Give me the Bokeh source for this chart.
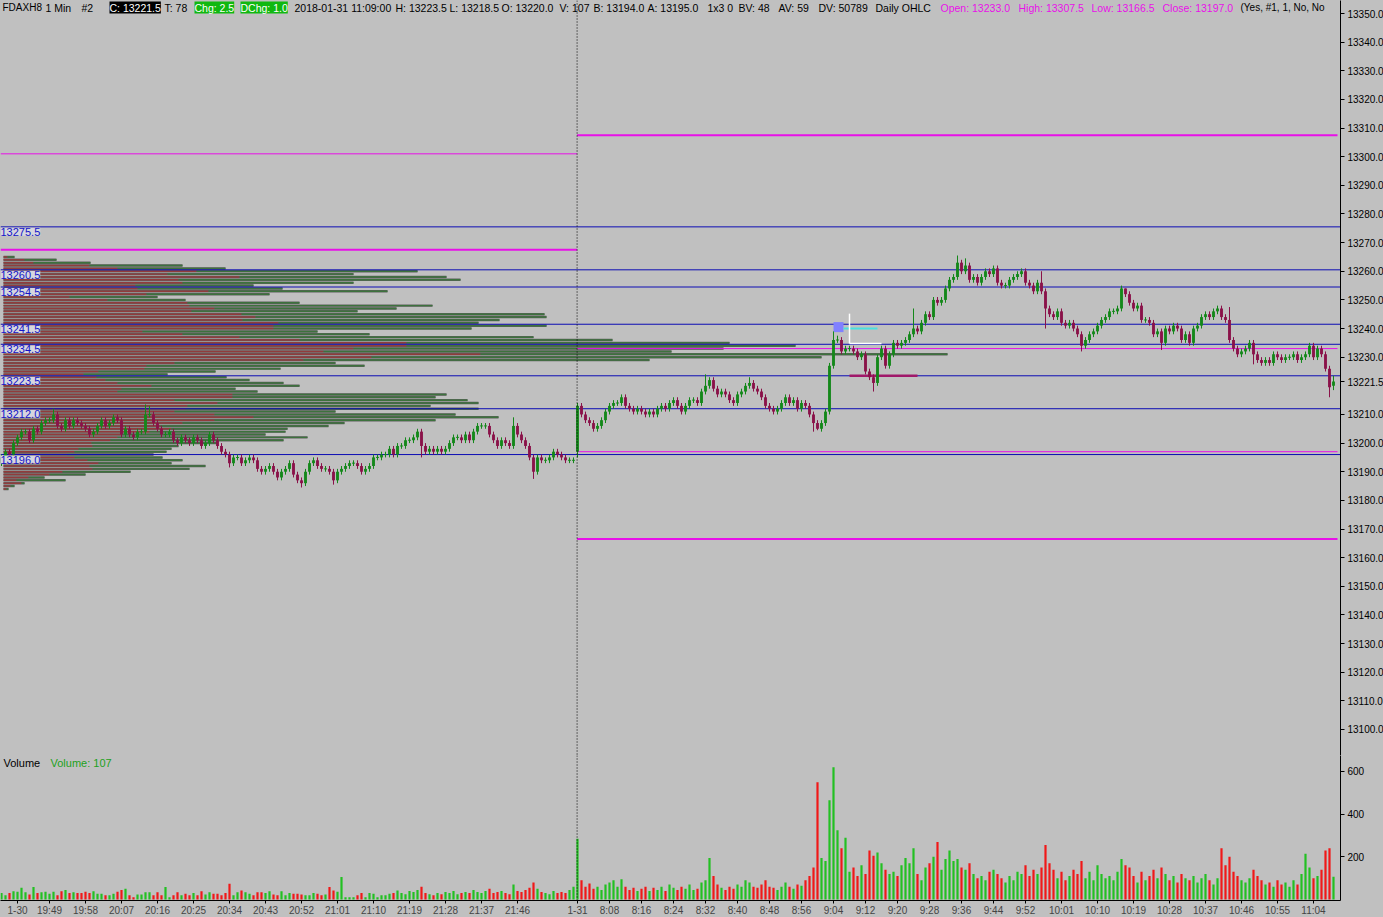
from bokeh.plotting import figure
from bokeh.models import Range1d, FixedTicker, PrintfTickFormatter, Label, Span, ColumnDataSource
from bokeh.layouts import column
from bokeh.embed import file_html
from bokeh.resources import INLINE

# ------------------------------------------------------------------ data
day1_start, day1_end = "19:37", "22:00"
day2_start, day2_end = "8:00", "11:09"

close_day1 = [
    13195, 13197, 13196, 13200, 13202, 13204, 13204, 13201, 13205, 13204,
    13207, 13208, 13208, 13210, 13206, 13205, 13208, 13206, 13208, 13207,
    13206, 13205, 13203, 13204, 13206, 13208, 13206, 13207, 13209, 13208,
    13203, 13205, 13203, 13202, 13204, 13204, 13210, 13210, 13207, 13205,
    13203, 13203, 13204, 13201, 13200, 13202, 13201, 13200, 13202, 13201,
    13199, 13200, 13203, 13201, 13199, 13197, 13196, 13193, 13195, 13195,
    13193, 13194, 13195, 13194, 13191, 13190, 13191, 13192, 13190, 13188,
    13190, 13191, 13193, 13189, 13187, 13186, 13190, 13193, 13194, 13192,
    13191, 13191, 13190, 13187, 13190, 13191, 13192, 13193, 13193, 13192,
    13190, 13191, 13192, 13195, 13195, 13196, 13196, 13198, 13196, 13199,
    13199, 13201, 13201, 13202, 13204, 13199, 13197, 13198, 13197, 13198,
    13197, 13198, 13200, 13202, 13202, 13201, 13203, 13201, 13204, 13206,
    13206, 13206, 13203, 13201, 13199, 13201, 13200, 13199, 13206, 13203,
    13201, 13199, 13195, 13190, 13195, 13194, 13194, 13195, 13197, 13196,
    13195, 13194, 13194, 13194,
]
close_day2 = [
    13213, 13210, 13208, 13207, 13205, 13206, 13208, 13211, 13213, 13214,
    13214, 13216, 13213, 13212, 13211, 13212, 13211, 13210, 13211, 13210,
    13212, 13213, 13212, 13214, 13215, 13213, 13211, 13213, 13215, 13215,
    13214, 13218, 13220, 13222, 13219, 13217, 13218, 13217, 13215, 13214,
    13217, 13218, 13220, 13221, 13219, 13218, 13216, 13213, 13212, 13211,
    13212, 13214, 13216, 13214, 13215, 13212, 13214, 13213, 13210, 13207,
    13205, 13207, 13211, 13227, 13236, 13236, 13232, 13233, 13233, 13232,
    13230, 13231, 13225, 13223, 13221, 13230, 13233, 13227, 13231, 13235,
    13234, 13235, 13236, 13238, 13240, 13239, 13242, 13245, 13244, 13250,
    13249, 13250, 13254, 13257, 13258, 13263, 13260, 13262, 13257, 13258,
    13256, 13258, 13260, 13259, 13261, 13256, 13255, 13255, 13257, 13258,
    13259, 13260, 13256, 13255, 13253, 13256, 13253, 13247, 13245, 13244,
    13246, 13242, 13241, 13242, 13240, 13238, 13234, 13236, 13238, 13239,
    13241, 13243, 13244, 13246, 13246, 13247, 13254, 13252, 13249, 13247,
    13248, 13243, 13243, 13242, 13238, 13239, 13235, 13240, 13239, 13241,
    13240, 13236, 13238, 13235, 13240, 13241, 13244, 13245, 13244, 13246,
    13247, 13244, 13243, 13236, 13233, 13231, 13232, 13233, 13235, 13231,
    13229, 13228, 13229, 13228, 13231, 13230, 13229, 13230, 13230, 13231,
    13229, 13230, 13231, 13234, 13230, 13233, 13231, 13226, 13219.5, 13221.5,
]
first_open = [13193.0, 13197.0]
open_overrides = {333: 13220.0}
wick_highs = {13: 13212, 36: 13213.5, 37: 13213, 128: 13209, 144: 13214, 176: 13224,
              187: 13223, 208: 13239, 209: 13237.5, 228: 13247, 239: 13265.5,
              241: 13264.5, 260: 13260, 280: 13255, 281: 13254, 307: 13247.5, 333: 13223.5}
wick_lows = {57: 13191.5, 75: 13184.5, 83: 13185.5, 105: 13195, 133: 13187.5, 144: 13195,
             203: 13204, 204: 13204.5, 218: 13218, 261: 13240, 270: 13232, 290: 13232.5,
             313: 13227.5, 332: 13216, 333: 13218.5}

vol_day1 = [
    31, 20, 31, 39, 36, 55, 34, 23, 59, 31,
    34, 36, 27, 36, 20, 39, 44, 31, 34, 31,
    31, 36, 31, 39, 27, 27, 20, 20, 27, 36,
    44, 50, 20, 11, 23, 23, 34, 34, 20, 34,
    20, 59, 11, 20, 34, 20, 27, 20, 31, 20,
    39, 23, 34, 27, 27, 20, 30, 74, 20, 34,
    42, 34, 27, 20, 34, 34, 31, 39, 23, 20,
    39, 20, 31, 27, 27, 23, 20, 20, 31, 27,
    20, 23, 58, 42, 36, 105, 11, 11, 11, 20,
    31, 11, 31, 27, 11, 20, 20, 27, 31, 42,
    30, 25, 40, 35, 45, 60, 30, 25, 20, 30,
    25, 35, 30, 40, 25, 30, 35, 30, 45, 35,
    30, 40, 50, 30, 35, 40, 30, 25, 70, 40,
    35, 45, 55, 80, 50, 35, 30, 25, 40, 30,
    35, 30, 45, 60,
]
vol_day2 = [
    285, 90, 60, 75, 50, 60, 45, 70, 80, 90,
    60, 95, 60, 45, 55, 40, 50, 60, 40, 55,
    45, 60, 40, 70, 55, 45, 60, 50, 70, 45,
    50, 80, 90, 195, 110, 70, 55, 45, 60, 50,
    70, 60, 90, 80, 60, 55, 70, 90, 60, 55,
    45, 60, 80, 60, 50, 70, 65, 90, 110, 150,
    550, 195, 180, 465, 620, 325, 240, 290, 130, 150,
    110, 160, 120, 230, 205, 220, 170, 140, 120, 130,
    110, 160, 195, 170, 240, 120, 90, 150, 170, 200,
    270, 140, 190, 230, 180, 190, 150, 140, 170, 120,
    100, 110, 90, 130, 140, 120, 100, 80, 110, 90,
    130, 120, 160, 110, 140, 120, 150, 255, 170, 140,
    100, 130, 90, 110, 140, 120, 180, 100, 130, 90,
    160, 120, 100, 110, 90, 130, 190, 160, 150, 110,
    80, 130, 90, 110, 140, 100, 150, 120, 90, 110,
    80, 120, 100, 90, 110, 80, 100, 120, 90, 70,
    100, 240, 160, 200, 130, 110, 90, 80, 100, 140,
    110, 90, 70, 80, 60, 90, 70, 80, 60, 90,
    70, 120, 215, 150, 100, 110, 140, 230, 240, 107,
]

# volume profile of the prior session (top price first, 1 point per row)
profile_top, profile_bottom = 13265, 13184
profile_sell = [
    4, 21, 30, 86, 114, 193, 164, 236, 175, 179, 132, 134, 205, 143, 66, 104,
    184, 186, 211, 188, 238, 252, 239, 275, 270, 270, 139, 179, 236, 296,
    403, 403, 350, 320, 477, 368, 300, 171, 143, 141, 95, 80, 93, 102, 114,
    148, 118, 114, 229, 229, 171, 214, 184, 182, 171, 211, 250, 211, 179,
    157, 168, 146, 118, 114, 107, 88, 89, 75, 71, 64, 71, 84, 95, 86, 89,
    59, 46, 25, 13, 18, 7, 3,
]
profile_total = [
    11, 53, 87, 179, 222, 414, 350, 443, 457, 350, 250, 279, 384, 266, 154, 182,
    296, 429, 393, 354, 541, 543, 496, 475, 543, 468, 314, 366, 530, 609,
    726, 792, 720, 668, 944, 818, 646, 332, 361, 277, 212, 164, 223, 246, 280,
    296, 232, 254, 443, 432, 464, 475, 427, 475, 332, 452, 495, 432, 341,
    325, 284, 282, 262, 304, 280, 214, 175, 168, 163, 150, 159, 179, 168, 202,
    186, 127, 82, 41, 62, 21, 11, 5,
]

levels_blue = [13275.5, 13260.5, 13254.5, 13241.5, 13234.5, 13223.5, 13212.0, 13196.0]
prior_levels = [13301.0, 13267.5]
daily_open, daily_high, daily_low, daily_close = 13233.0, 13307.5, 13166.5, 13197.0
last_price = 13221.5
last_volume = 107

day1_ticks = ["19:49", "19:58", "20:07", "20:16", "20:25", "20:34", "20:43", "20:52",
              "21:01", "21:10", "21:19", "21:28", "21:37", "21:46"]
day2_ticks = ["8:08", "8:16", "8:24", "8:32", "8:40", "8:48", "8:56", "9:04", "9:12",
              "9:20", "9:28", "9:36", "9:44", "9:52", "10:01", "10:10", "10:19", "10:28",
              "10:37", "10:46", "10:55", "11:04"]
date_labels = [("1-30", "19:41"), ("1-31", "8:00")]
price_ticks = [13100 + 10 * k for k in range(26)]
volume_ticks = [200, 400, 600]

# drawing-tool objects on the chart (time, price)
marker_box = ("9:05", 13240.5)
cyan_line = ("9:06", "9:15", 13240.0)
white_lines = ("9:08", "9:16", 13234.8, 13245.2)
purple_line = ("9:08", "9:25", 13223.5)

# ------------------------------------------------------------------ derived
def to_min(s):
    h, m = s.split(":")
    return int(h) * 60 + int(m)

def fmt(m):
    return "%d:%02d" % (m // 60, m % 60)

times1 = [fmt(m) for m in range(to_min(day1_start), to_min(day1_end) + 1)]
times2 = [fmt(m) for m in range(to_min(day2_start), to_min(day2_end) + 1)]
bar_times = times1 + times2
d2 = len(times1)

closes = close_day1 + close_day2
opens = [first_open[0]] + close_day1[:-1] + [first_open[1]] + close_day2[:-1]
for k, v in open_overrides.items():
    opens[k] = v
vols = vol_day1 + vol_day2
n = len(closes)
idx = list(range(n))

WICK = 1.0
highs, lows, tops, bots, up = [], [], [], [], []
for i in idx:
    o, c = opens[i], closes[i]
    hi, lo = max(o, c), min(o, c)
    highs.append(max(wick_highs.get(i, hi + WICK), hi))
    lows.append(min(wick_lows.get(i, lo - WICK), lo))
    if hi - lo < 0.35:
        mid = (hi + lo) / 2
        hi, lo = mid + 0.18, mid - 0.18
    tops.append(hi)
    bots.append(lo)
    up.append(c >= o)

GREEN_C, RED_C = "#14881a", "#8a1249"
GREEN_V, RED_V = "#22c022", "#f01818"
BG = "#c0c0c0"
FONT = "Liberation Sans"
BLUE = "#0c0cb4"
MAG = "#e810e8"

src = ColumnDataSource(dict(
    x=idx, o=opens, c=closes, h=highs, l=lows, top=tops, bot=bots, v=vols,
    cc=[GREEN_C if u else RED_C for u in up],
    vc=[GREEN_V if u else RED_V for u in up],
))

# pixel layout helpers: frame is 1340px wide, 4px per bar
FRAME_W = 1340
xr = Range1d(-0.25, 334.75)
def px(xpix):
    return (xpix - 1) / 4.0

PRICE_TOP, PRICE_BOT = 13354.54, 13090.92
price_fig = figure(frame_width=FRAME_W, frame_height=755, x_range=xr,
                   y_range=Range1d(PRICE_BOT, PRICE_TOP),
                   x_axis_location=None, y_axis_location="right",
                   output_backend="svg", toolbar_location=None,
                   min_border_left=0, min_border_right=43, min_border_top=0, min_border_bottom=0)
vol_fig = figure(frame_width=FRAME_W, frame_height=145, x_range=xr,
                 y_range=Range1d(-4.7, 675), y_axis_location="right",
                 output_backend="svg", toolbar_location=None,
                 min_border_left=0, min_border_right=43, min_border_top=0, min_border_bottom=17)

for f in (price_fig, vol_fig):
    f.background_fill_color = BG
    f.border_fill_color = BG
    f.outline_line_color = None
    f.grid.visible = False
    ax = f.yaxis[0]
    ax.axis_line_color = "black"
    ax.major_tick_line_color = "black"
    ax.major_tick_out = 4
    ax.major_tick_in = 0
    ax.minor_tick_line_color = None
    ax.major_label_standoff = 3
    ax.major_label_text_font = FONT
    ax.major_label_text_font_size = "10px"
    ax.major_label_text_color = "black"

# price axis: the last-price tag replaces the 13220 label it covers
shown_ticks = [t for t in price_ticks if abs(t - last_price) > 5] + [last_price]
price_fig.yaxis[0].ticker = FixedTicker(ticks=shown_ticks)
price_fig.yaxis[0].formatter = PrintfTickFormatter(format="%.1f")
vol_fig.yaxis[0].ticker = FixedTicker(ticks=volume_ticks)

# x axis (time labels)
tick_pos = [bar_times.index(t) for t in day1_ticks] + [d2 + times2.index(t) for t in day2_ticks]
tick_txt = day1_ticks + day2_ticks
date_pos = [bar_times.index(date_labels[0][1]), d2 + times2.index(date_labels[1][1])]
xa = vol_fig.xaxis[0]
xa.ticker = FixedTicker(ticks=tick_pos + date_pos)
overrides = {p: t for p, t in zip(tick_pos, tick_txt)}
for p, (t, _) in zip(date_pos, date_labels):
    overrides[p] = t
xa.major_label_overrides = overrides
xa.axis_line_color = "black"
xa.major_tick_line_color = "black"
xa.major_tick_out = 3
xa.major_tick_in = 0
xa.minor_tick_line_color = None
xa.major_label_standoff = 1
xa.major_label_text_font = FONT
xa.major_label_text_font_size = "10px"

# ------------------------------------------------------------------ volume profile
prof_prices = list(range(profile_top, profile_bottom - 1, -1))
PROFILE_SCALE = 0.25   # bars per profile unit
p0 = px(3)
prof_src = ColumnDataSource(dict(
    y=prof_prices,
    left=[p0] * len(prof_prices),
    mid=[p0 + s * PROFILE_SCALE for s in profile_sell],
    right=[p0 + t * PROFILE_SCALE for t in profile_total],
))
price_fig.hbar(y="y", left="left", right="right", height=0.86, source=prof_src,
               fill_color="#5e5e5e", line_color=None)
price_fig.hbar(y="y", left="left", right="mid", height=0.52, source=prof_src,
               fill_color="#913c3c", line_color=None)
price_fig.hbar(y="y", left="mid", right="right", height=0.52, source=prof_src,
               fill_color="#3d723d", line_color=None)

# ------------------------------------------------------------------ lines
left_end = d2 - 0.1
right_end = 334.0
price_fig.segment(x0=[-0.25, -0.25], x1=[left_end, left_end], y0=prior_levels, y1=prior_levels,
                  line_color=MAG, line_width=[1, 2])
price_fig.segment(x0=[left_end] * 4, x1=[right_end] * 4,
                  y0=[daily_high, daily_low, daily_open, daily_close],
                  y1=[daily_high, daily_low, daily_open, daily_close],
                  line_color=MAG, line_width=[2, 2, 1, 1])
price_fig.segment(x0=[-0.25] * len(levels_blue), x1=[334.75] * len(levels_blue),
                  y0=levels_blue, y1=levels_blue, line_color=BLUE, line_width=1)

# drawing tools
def bi(t):
    return d2 + times2.index(t)
price_fig.rect(x=[bi(marker_box[0]) + 0.25], y=[marker_box[1]], width=2.5, height=3.5,
               fill_color="#8080ff", line_color=None)
price_fig.segment(x0=[bi(cyan_line[0]) + 0.5], x1=[bi(cyan_line[1])], y0=[cyan_line[2]], y1=[cyan_line[2]],
                  line_color="#48e0e0", line_width=2)
price_fig.segment(x0=[bi(white_lines[0]), bi(white_lines[0])], x1=[bi(white_lines[0]), bi(white_lines[1])],
                  y0=[white_lines[3], white_lines[2]], y1=[white_lines[2], white_lines[2]],
                  line_color="white", line_width=1.5)
price_fig.segment(x0=[bi(purple_line[0])], x1=[bi(purple_line[1])], y0=[purple_line[2]], y1=[purple_line[2]],
                  line_color="#a0186a", line_width=2.5)

# ------------------------------------------------------------------ candles
price_fig.segment(x0="x", x1="x", y0="l", y1="h", line_color="cc", line_width=1, source=src)
price_fig.vbar(x="x", top="top", bottom="bot", width=0.72, fill_color="cc", line_color=None, source=src)

# session break
for f in (price_fig, vol_fig):
    f.add_layout(Span(location=d2 - 0.1, dimension="height", line_color="black",
                      line_width=1, line_dash="1 2"))

# volume bars
vol_fig.vbar(x="x", top="v", bottom=0, width=0.55, fill_color="vc", line_color=None, source=src)

# ------------------------------------------------------------------ labels
for lv in levels_blue:
    price_fig.add_layout(Label(x=-0.25, y=lv, text="%.1f" % lv, text_font=FONT, text_font_size="11px",
                               text_color="#1414c8", text_baseline="top", y_offset=-1,
                               background_fill_color="#d6d6de"))

H1 = "10.5px"
header = [
    (2, "FDAXH8", "black", None, "10px"),
    (45, "1 Min", "black", None, H1),
    (81, "#2", "black", None, H1),
    (109, "C: %.1f" % last_price, "white", "black", H1),
    (164, "T: 78", "black", None, H1),
    (194, "Chg: 2.5", "white", "#10b810", H1),
    (240, "DChg: 1.0", "white", "#10b810", H1),
    (294, "2018-01-31 11:09:00", "black", None, H1),
    (395, "H: 13223.5", "black", None, H1),
    (449, "L: 13218.5", "black", None, H1),
    (501, "O: 13220.0", "black", None, H1),
    (559, "V: 107", "black", None, H1),
    (593, "B: 13194.0", "black", None, H1),
    (647, "A: 13195.0", "black", None, H1),
    (707, "1x3 0", "black", None, H1),
    (738, "BV: 48", "black", None, H1),
    (778, "AV: 59", "black", None, H1),
    (818, "DV: 50789", "black", None, H1),
    (875, "Daily OHLC", "black", None, H1),
    (940, "Open: %.1f" % daily_open, MAG, None, H1),
    (1018, "High: %.1f" % daily_high, MAG, None, H1),
    (1091, "Low: %.1f" % daily_low, MAG, None, H1),
    (1162, "Close: %.1f" % daily_close, MAG, None, H1),
    (1240, "(Yes, #1, 1, No, No", "black", None, "10px"),
]
for xp, txt, col, bg, fs in header:
    kw = dict(background_fill_color=bg) if bg else {}
    price_fig.add_layout(Label(x=px(xp), y=PRICE_TOP, text=txt, text_font=FONT, text_font_size=fs,
                               text_color=col, text_baseline="top", y_offset=-1, **kw))

vol_fig.add_layout(Label(x=px(3), y=675, text="Volume", text_font=FONT, text_font_size="11px",
                         text_color="black", text_baseline="top", y_offset=-1))
vol_fig.add_layout(Label(x=px(50), y=675, text="Volume: %d" % last_volume, text_font=FONT,
                         text_font_size="11px", text_color="#20a020", text_baseline="top", y_offset=-1))

layout = column(price_fig, vol_fig, spacing=0)
layout.styles = {"background-color": BG}

open("out.html", "w").write(file_html(layout, INLINE))
